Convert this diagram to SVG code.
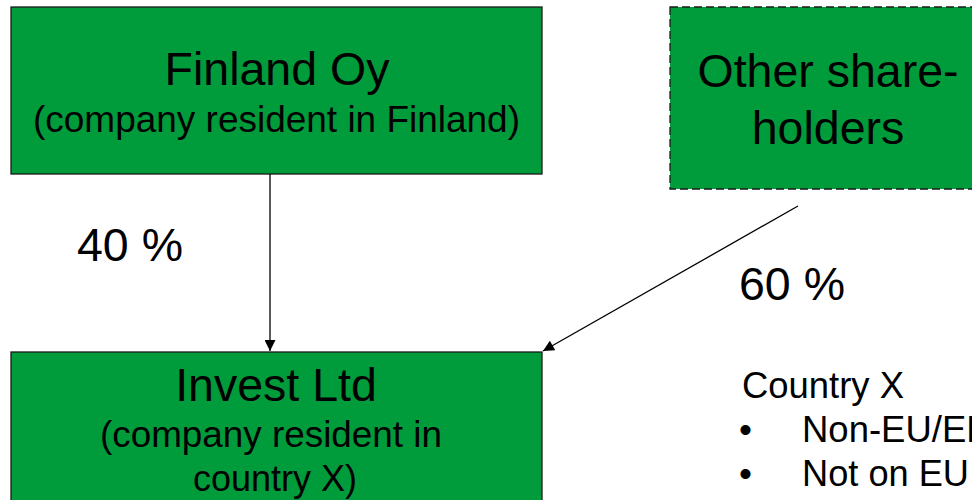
<svg xmlns="http://www.w3.org/2000/svg" width="972" height="500" viewBox="0 0 972 500">
<style>
.box{fill:#009B3A;stroke:#1a1a1a;stroke-width:1.3}
.dash{stroke-dasharray:8,4}
text{font-family:"Liberation Sans",Arial,sans-serif;fill:#000}
.big{font-size:46.5px}
.mid{font-size:37px}
.c{text-anchor:middle}
.ln{stroke:#000;stroke-width:1.3;fill:none}
</style>
<defs>
<marker id="ah" viewBox="0 0 10 10" refX="10" refY="5" markerWidth="13" markerHeight="11" markerUnits="userSpaceOnUse" orient="auto">
<path d="M0,0 L10,5 L0,10 z" fill="#000"/>
</marker>
</defs>
<rect width="972" height="500" fill="#fff"/>
<g id="finland">
<rect class="box" x="11" y="7" width="531" height="167"/>
<text class="big c" x="277" y="85">Finland Oy</text>
<text class="mid" x="33" y="132" textLength="487" lengthAdjust="spacingAndGlyphs">(company resident in Finland)</text>
</g>
<g id="other">
<rect class="box dash" x="670" y="7" width="320" height="182"/>
<text class="big c" x="828" y="87">Other share-</text>
<text class="big c" x="828" y="144">holders</text>
</g>
<g id="invest">
<rect class="box" x="11" y="352" width="531" height="160"/>
<text class="big c" x="276" y="401">Invest Ltd</text>
<text class="mid" x="100" y="447" textLength="342" lengthAdjust="spacingAndGlyphs">(company resident in</text>
<text class="mid" x="193" y="491" textLength="164" lengthAdjust="spacingAndGlyphs">country X)</text>
</g>
<g id="connectors">
<line class="ln" x1="270" y1="174" x2="270" y2="351" marker-end="url(#ah)"/>
<line class="ln" x1="798" y1="206" x2="543" y2="351" marker-end="url(#ah)"/>
</g>
<g id="labels">
<text class="big" x="77" y="261">40 %</text>
<text class="big" x="739" y="300">60 %</text>
<text class="mid" x="742" y="398" textLength="162" lengthAdjust="spacingAndGlyphs">Country X</text>
<text class="mid" x="739" y="442">•</text>
<text class="mid" x="802" y="442" textLength="213" lengthAdjust="spacingAndGlyphs">Non-EU/EEA</text>
<text class="mid" x="739" y="486">•</text>
<text class="mid" x="802" y="486" textLength="167" lengthAdjust="spacingAndGlyphs">Not on EU</text>
</g>
</svg>
